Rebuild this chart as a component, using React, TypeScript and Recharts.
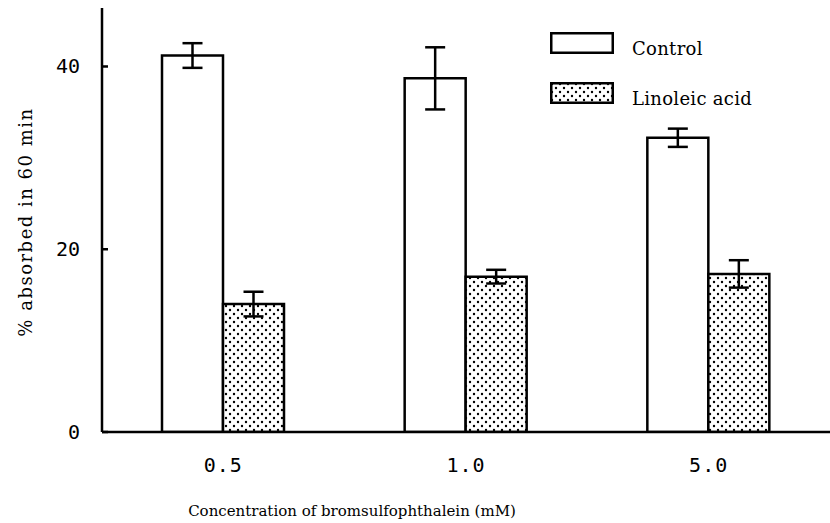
import { BarChart, Bar, XAxis, YAxis, ErrorBar } from "recharts";

const CONCENTRATIONS = ["0.5", "1.0", "5.0"];
const CONTROL = [41.2, 38.7, 32.2];
const CONTROL_ERR = [1.35, 3.4, 1.0];
const LINOLEIC = [14.0, 17.0, 17.3];
const LINOLEIC_ERR = [1.35, 0.75, 1.5];
const Y_TICKS = [0, 20, 40];

const data = CONCENTRATIONS.map((name, i) => ({
  name,
  control: CONTROL[i],
  controlErr: CONTROL_ERR[i],
  linoleic: LINOLEIC[i],
  linoleicErr: LINOLEIC_ERR[i],
}));

const INK = "#000";
const SERIF = "'DejaVu Serif', 'Liberation Serif', serif";
const MONO = "'DejaVu Sans Mono', 'Liberation Mono', monospace";

const YTick = (props: any) => {
  const { x, y, payload } = props;
  return (
    <g>
      <line x1={x + 22} x2={x + 28} y1={y} y2={y} stroke={INK} strokeWidth={2.5} />
      <text x={x} y={y} textAnchor="end" dominantBaseline="central" fontFamily={MONO} fontSize={20} fill={INK}>
        {payload.value}
      </text>
    </g>
  );
};

const XTick = (props: any) => {
  const { x, y, payload } = props;
  return (
    <text x={x} y={y + 25} textAnchor="middle" dominantBaseline="central" fontFamily={MONO} fontSize={20} letterSpacing={1} fill={INK}>
      {payload.value}
    </text>
  );
};

const LegendBox = ({ dotted, label }: { dotted: boolean; label: string }) => (
  <div style={{ display: "flex", alignItems: "center", height: 22, marginBottom: 28 }}>
    <svg width={64} height={22} style={{ display: "block" }}>
      <rect x={1.25} y={1.25} width={61.5} height={19.5} fill={dotted ? "url(#stipple)" : "#fff"} stroke={INK} strokeWidth={2.5} />
    </svg>
    <span style={{ marginLeft: 18, fontFamily: SERIF, fontSize: 18, letterSpacing: 0.3, color: INK, whiteSpace: "nowrap", position: "relative", top: 5 }}>
      {label}
    </span>
  </div>
);

export default function App() {
  return (
    <div style={{ position: "absolute", left: 0, top: 0, width: 830, height: 523, background: "#fff" }}>
      <BarChart
        width={830}
        height={523}
        data={data}
        margin={{ top: 8, right: 0, left: 0, bottom: 61 }}
        barCategoryGap={60}
        barGap={0}
      >
        <defs>
          <pattern id="stipple" width={8} height={8} patternUnits="userSpaceOnUse">
            <rect width={8} height={8} fill="#fff" />
            <circle cx={2} cy={2} r={1.2} fill={INK} />
            <circle cx={6} cy={6} r={1.2} fill={INK} />
          </pattern>
        </defs>
        <XAxis
          dataKey="name"
          height={30}
          axisLine={{ stroke: INK, strokeWidth: 2.5 }}
          tickLine={false}
          tick={<XTick />}
          label={{
            content: () => (
              <text x={352} y={511} textAnchor="middle" dominantBaseline="central" fontFamily={SERIF} fontSize={15} fill={INK}>
                Concentration of bromsulfophthalein (mM)
              </text>
            ),
          }}
        />
        <YAxis
          width={102}
          domain={[0, 46.4]}
          ticks={Y_TICKS}
          allowDataOverflow
          axisLine={{ stroke: INK, strokeWidth: 2.5 }}
          tickLine={false}
          tickSize={0}
          tickMargin={22}
          tick={<YTick />}
          label={{
            content: () => (
              <text
                x={25}
                y={222}
                transform="rotate(-90 25 222)"
                textAnchor="middle"
                dominantBaseline="central"
                fontFamily={SERIF}
                fontSize={18}
                letterSpacing={1.5}
                fill={INK}
              >
                % absorbed in 60 min
              </text>
            ),
          }}
        />
        <Bar dataKey="control" name="Control" fill="#fff" stroke={INK} strokeWidth={2.5} isAnimationActive={false}>
          <ErrorBar dataKey="controlErr" width={10} stroke={INK} strokeWidth={2.5} />
        </Bar>
        <Bar dataKey="linoleic" name="Linoleic acid" fill="url(#stipple)" stroke={INK} strokeWidth={2.5} isAnimationActive={false}>
          <ErrorBar dataKey="linoleicErr" width={10} stroke={INK} strokeWidth={2.5} />
        </Bar>
      </BarChart>
      <div style={{ position: "absolute", left: 550, top: 32 }}>
        <LegendBox dotted={false} label="Control" />
        <LegendBox dotted label="Linoleic acid" />
      </div>
    </div>
  );
}
